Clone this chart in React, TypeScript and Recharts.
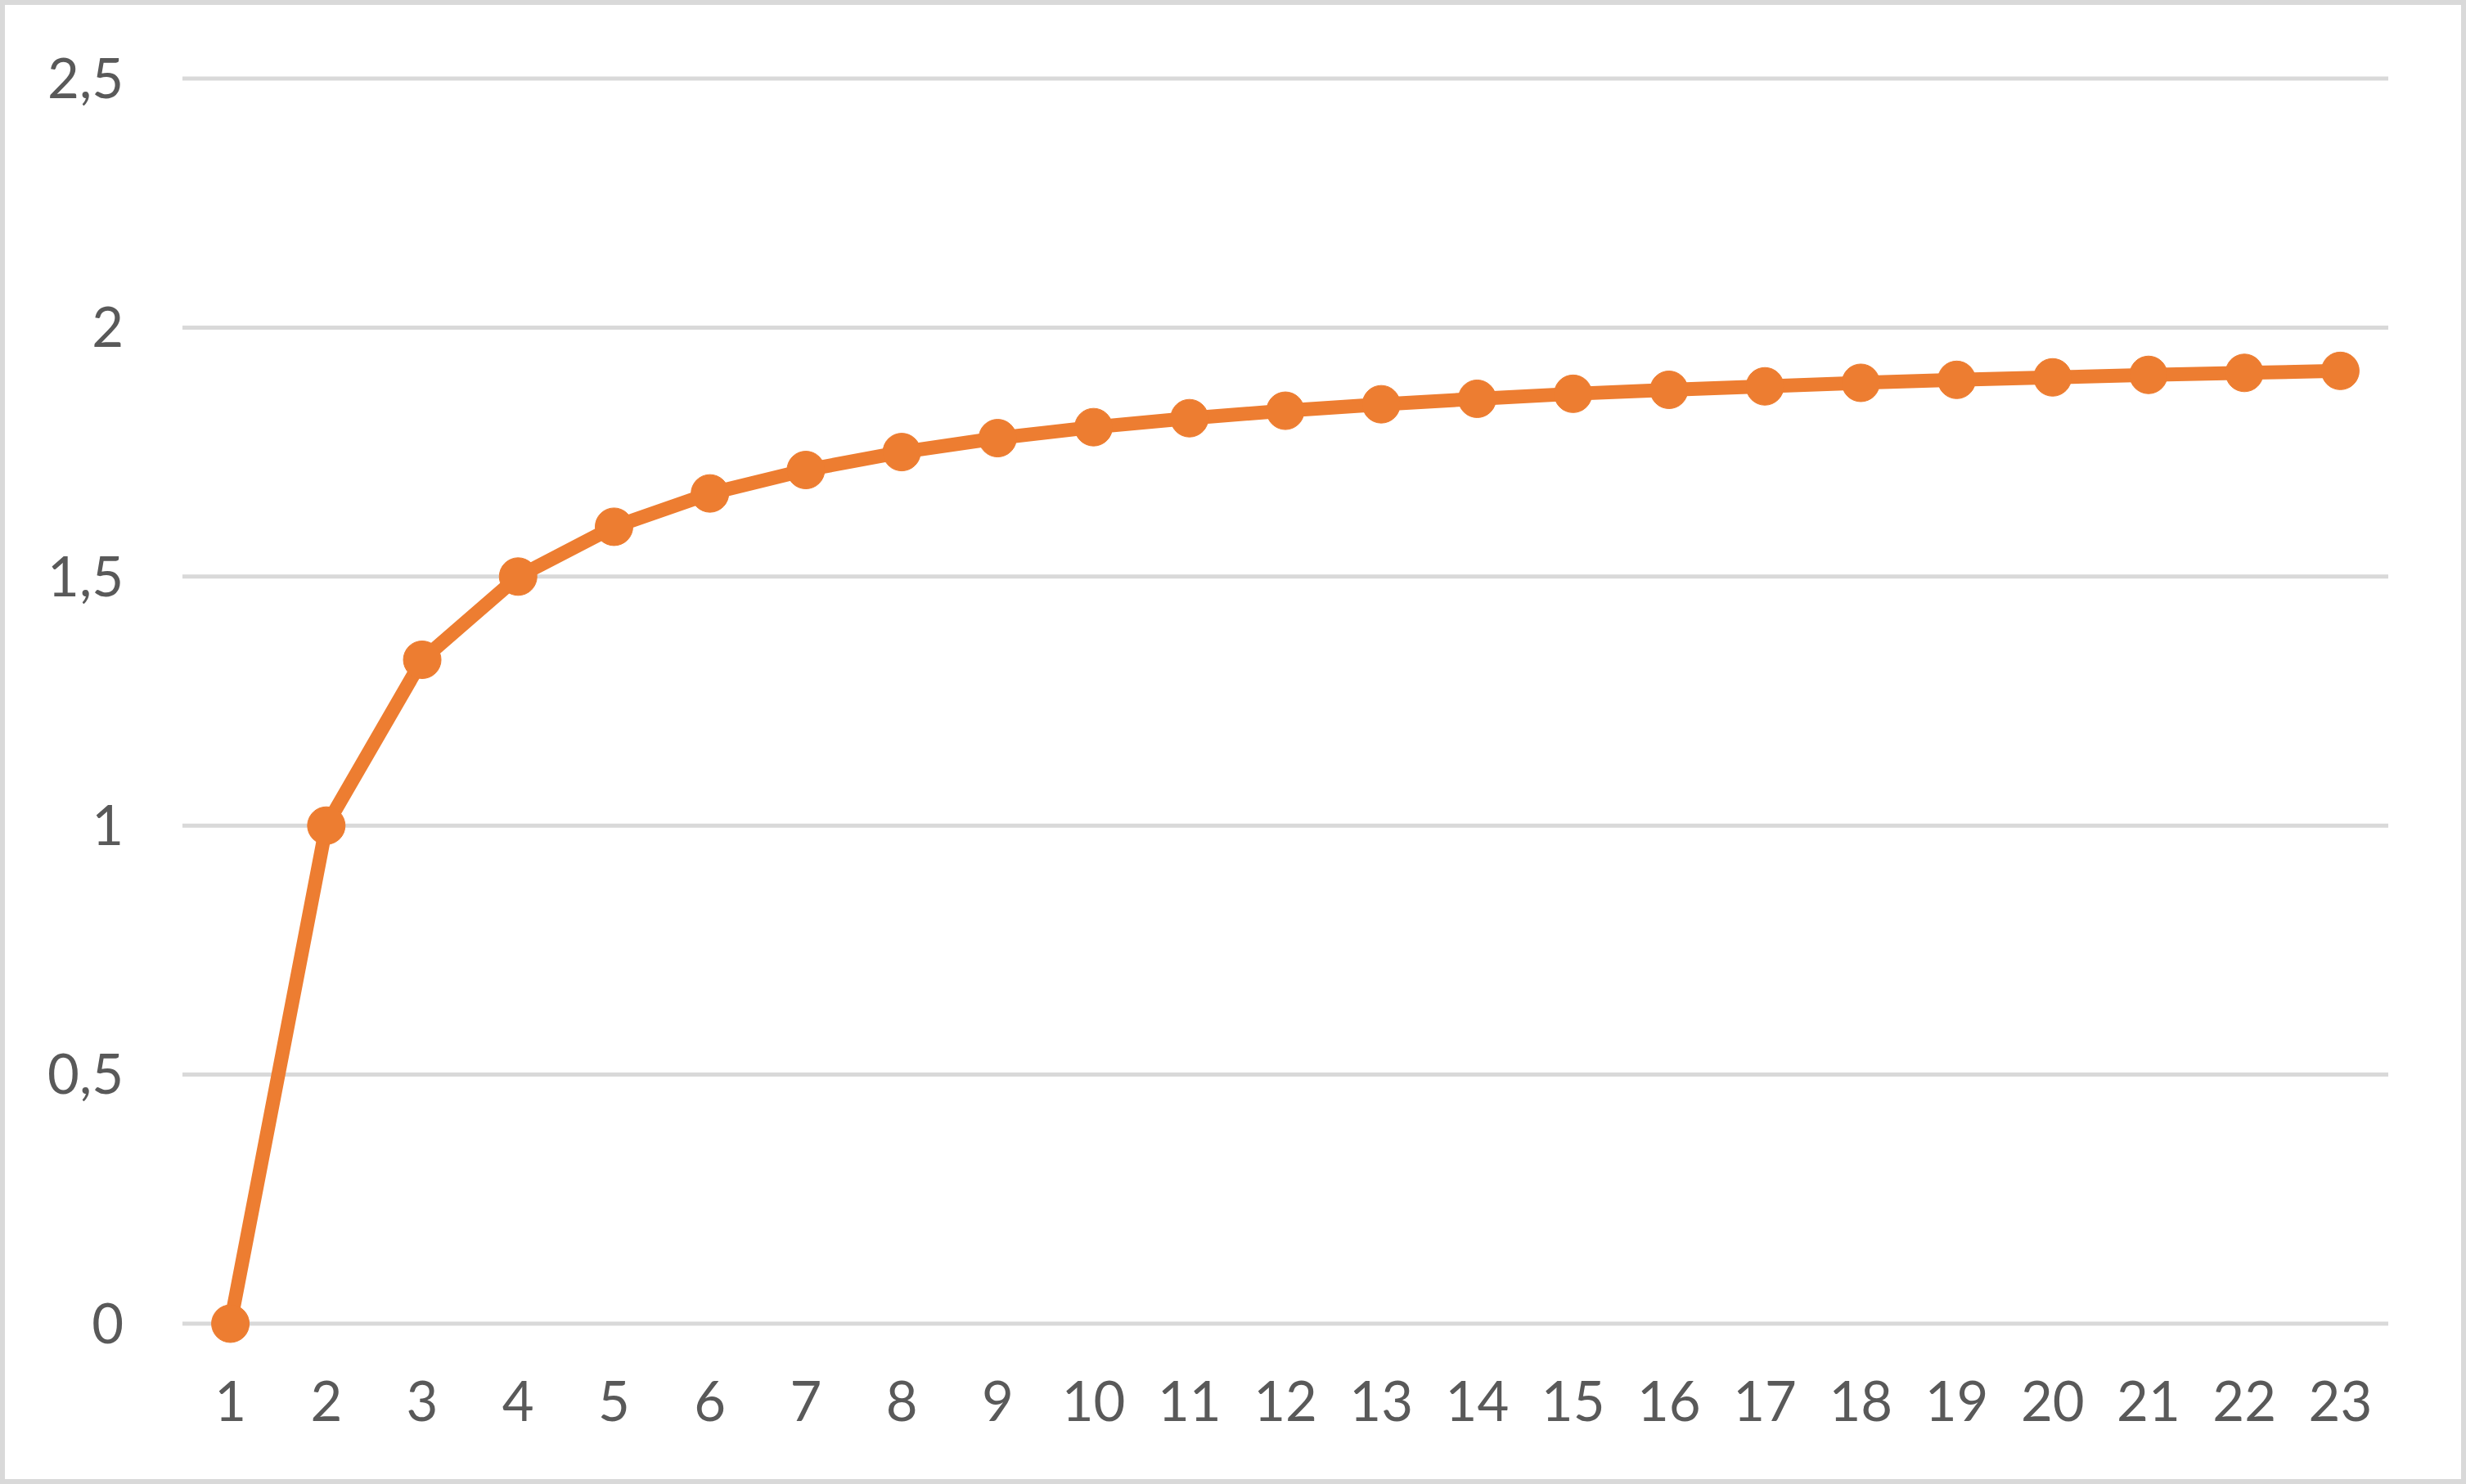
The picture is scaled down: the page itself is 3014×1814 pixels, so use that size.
import React from "react";
import { LineChart, Line, XAxis, YAxis, CartesianGrid } from "recharts";

const categories: string[] = [
  "1", "2", "3", "4", "5", "6", "7", "8", "9", "10", "11", "12",
  "13", "14", "15", "16", "17", "18", "19", "20", "21", "22", "23",
];

const seriesValues: number[] = [
  0, 1, 1.333, 1.5, 1.6, 1.667, 1.714, 1.75, 1.778, 1.8, 1.818, 1.833,
  1.846, 1.857, 1.867, 1.875, 1.882, 1.889, 1.895, 1.9, 1.905, 1.909, 1.913,
];

const yTicks: number[] = [0, 0.5, 1, 1.5, 2, 2.5];

const data = categories.map((c, i) => ({ cat: c, value: seriesValues[i] }));

const fmt = (v: number) => String(v).replace(".", ",");

const FONT = "Lato, 'Liberation Sans', sans-serif";
const TICK_COLOR = "#595959";

export default function App() {
  return (
    <div
      style={{
        position: "absolute",
        left: 0,
        top: 0,
        width: 3014,
        height: 1814,
        boxSizing: "border-box",
        border: "6px solid #d9d9d9",
        background: "#ffffff",
      }}
    >
      <LineChart
        width={3002}
        height={1802}
        data={data}
        margin={{ top: 90, right: 89, left: 0, bottom: 0 }}
      >
        <CartesianGrid
          horizontal={true}
          vertical={false}
          stroke="#d9d9d9"
          strokeWidth={5}
        />
        <XAxis
          dataKey="cat"
          axisLine={false}
          tickLine={false}
          tickSize={0}
          tickMargin={71}
          height={190}
          interval={0}
          padding={{ left: 58.6, right: 58.6 }}
          tick={{ fill: TICK_COLOR, fontSize: 67, fontFamily: FONT }}
        />
        <YAxis
          domain={[0, 2.5]}
          ticks={yTicks}
          tickFormatter={fmt}
          axisLine={false}
          tickLine={false}
          tickSize={0}
          tickMargin={72}
          width={217}
          tick={{ fill: TICK_COLOR, fontSize: 67, fontFamily: FONT }}
        />
        <Line
          type="linear"
          dataKey="value"
          stroke="#ED7D31"
          strokeWidth={17}
          dot={{ r: 23, fill: "#ED7D31", stroke: "#ED7D31", strokeWidth: 1 }}
          activeDot={false}
          isAnimationActive={false}
        />
      </LineChart>
    </div>
  );
}
